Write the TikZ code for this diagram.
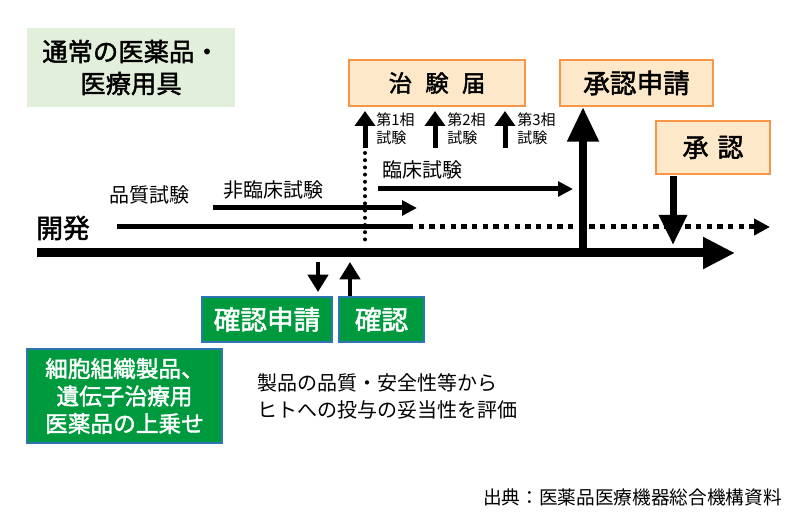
\documentclass[tikz,border=0pt]{standalone}
\usepackage{fontspec}
\setmainfont{Noto Sans CJK JP}
\newfontfamily\medfont[AutoFakeBold=1.8]{Noto Sans CJK JP}
\usetikzlibrary{arrows.meta}
\definecolor{titlegreen}{HTML}{E2EFDA}
\definecolor{boxfill}{HTML}{FDE9C9}
\definecolor{boxline}{HTML}{F79646}
\definecolor{kgreen}{HTML}{009A3E}
\definecolor{kblue}{HTML}{2E75B6}
\newcommand{\fs}[2]{\fontsize{#1}{#2}\selectfont}
\newcommand{\med}{\medfont\bfseries}
\tikzset{
  txt/.style={inner sep=0pt, font=\fs{15pt}{18pt}},
  obox/.style={draw=boxline, fill=boxfill, line width=1.5pt, inner sep=0pt},
  gbox/.style={draw=kblue, fill=kgreen, line width=1.5pt, inner sep=0pt, text=white, font=\med\fs{20pt}{24pt}},
  midarrow/.style={line width=3.75pt, -{Triangle[length=11.25pt,width=11pt]}},
  smallarrow/.style={line width=3.75pt, -{Triangle[length=11.25pt,width=15pt]}},
  karrow/.style={line width=3.5pt, -{Triangle[length=13pt,width=15pt]}},
}
\begin{document}
\begin{tikzpicture}[x=0.75pt,y=-0.75pt]
\useasboundingbox (0,0) rectangle (800,530);

% title
\node[fill=titlegreen, minimum width=156pt, minimum height=59.25pt, align=center,
      font=\med\fs{19pt}{24pt}] (title) at (131,67.5) {通常の医薬品・\\医療用具};

% upper boxes
\node[obox, minimum width=132pt, minimum height=34.5pt, font=\med\fs{17.5pt}{20pt}] (chiken) at (437,83)
  {治\hspace{10pt}験\hspace{10pt}届};
\node[obox, minimum width=114.75pt, minimum height=34.5pt, font=\med\fs{20pt}{24pt}] (shinsei) at (636.5,83) {承認申請};
\node[obox, minimum width=85.5pt, minimum height=39.75pt, font=\med\fs{19.5pt}{24pt}] (shonin) at (713,147.5)
  {承\hspace{6.75pt}認};

% phase arrows and labels
\coordinate (p1) at (365,148);
\coordinate (p2) at (435,148);
\coordinate (p3) at (505,148);
\draw[smallarrow] (p1) -- ([yshift=-3pt]chiken.south -| p1);
\draw[smallarrow] (p2) -- ([yshift=-3pt]chiken.south -| p2);
\draw[smallarrow] (p3) -- ([yshift=-3pt]chiken.south -| p3);
\node[txt, anchor=west, align=left, font=\fs{11.25pt}{13.5pt}] (ph1) at (376,129) {第1相\\試験};
\node[txt, anchor=west, align=left, font=\fs{11.25pt}{13.5pt}] (ph2) at (447,129) {第2相\\試験};
\node[txt, anchor=west, align=left, font=\fs{11.25pt}{13.5pt}] (ph3) at (517,129) {第3相\\試験};

% dotted vertical line
\coordinate (dotT) at (365,153);
\coordinate (dotB) at (365,243);
\draw[line width=3pt, line cap=round, dash pattern=on 0pt off 5.4pt] (dotT) -- (dotB);

% labels
\node[txt] (hinshitsu) at (149,195) {品質試験};
\node[txt] (hirinsho) at (273,190) {非臨床試験};
\node[txt] (rinsho) at (422,170) {臨床試験};
\node[txt, font=\med\fs{20pt}{24pt}] (kaihatsu) at (63,228) {開発};

% test arrows
\coordinate (nrL) at (213,208);
\coordinate (nrR) at (417,208);
\draw[midarrow] (nrL) -- (nrR);
\coordinate (crL) at (378,189);
\coordinate (crR) at (573,189);
\draw[midarrow] (crL) -- (crR);

% development line
\coordinate (dvL) at (117,227);
\coordinate (dvM) at (408,227);
\coordinate (dvR) at (770,227);
\draw[line width=3.75pt] (dvL) -- (dvM);
\draw[line width=3.75pt, dash pattern=on 4.1pt off 3.9pt, -{Triangle[length=12pt,width=12pt]}] (dvM) -- (dvR);

% main axis
\coordinate (axL) at (37,253);
\coordinate (axR) at (735,253);
\draw[line width=6.75pt, -{Triangle[length=24pt,width=22.5pt]}] (axL) -- (axR);

% approval arrows
\coordinate (shB) at (583,248);
\draw[line width=6pt, -{Triangle[length=26pt,width=22.5pt]}] (shB) -- (shinsei.south -| shB);
\coordinate (onB) at (673,245);
\draw[line width=5.25pt, -{Triangle[length=22.5pt,width=20pt]}] ([yshift=-1pt]shonin.south -| onB) -- (onB);

% green boxes
\node[gbox, minimum width=97.5pt, minimum height=33.75pt] (kshinsei) at (267,319.5) {確認申請};
\node[gbox, minimum width=63.75pt, minimum height=33.75pt] (kakunin) at (381.5,319.5) {確認};
\coordinate (kd) at (318,262);
\coordinate (ku) at (350,262);
\draw[karrow] (kd) -- ([yshift=3pt]kshinsei.north -| kd);
\draw[karrow] (kakunin.north -| ku) -- (ku);

\node[gbox, minimum width=146.25pt, minimum height=70.5pt, align=center, font=\med\fs{17pt}{20.6pt}]
  (saibou) at (124.5,396) {細胞組織製品、\\遺伝子治療用\\医薬品の上乗せ};

% explanation
\node[txt, anchor=west, align=left, font=\fs{15pt}{20.25pt}] (eval) at (257,396)
  {製品の品質・安全性等から\\ヒトへの投与の妥当性を評価};

% source
\node[txt, anchor=east, font=\fs{14pt}{16pt}] (src) at (782,497) {出典：医薬品医療機器総合機構資料};
\end{tikzpicture}
\end{document}
